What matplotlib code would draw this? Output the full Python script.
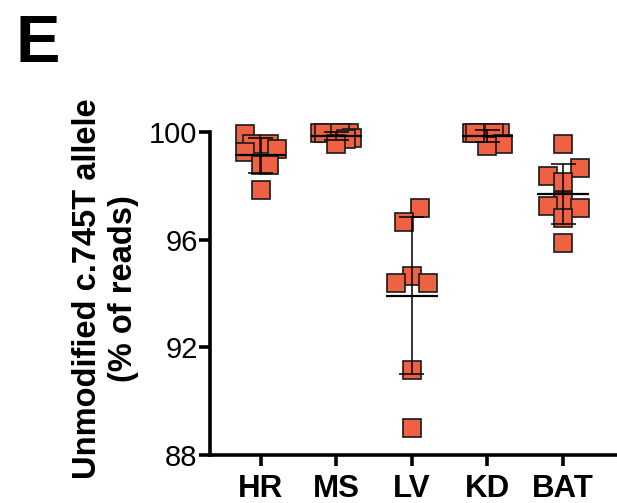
import numpy as np
import matplotlib
matplotlib.use("Agg")
import matplotlib.pyplot as plt

plt.rcParams['font.family'] = ['Liberation Sans', 'DejaVu Sans']

categories = ["HR", "MS", "LV", "KD", "BAT"]

hr_values = [99.94, 99.55, 99.55, 99.37, 99.25, 98.78, 98.78, 97.86]
ms_values = [99.98, 99.96, 99.97, 99.96, 99.95, 99.77, 99.74, 99.55]
lv_values = [97.17, 96.67, 94.66, 94.38, 94.38, 91.16, 88.99]
kd_values = [99.98, 99.96, 99.96, 99.97, 99.95, 99.55, 99.48, 99.98]
bat_values = [99.55, 98.65, 98.38, 98.15, 97.45, 97.26, 97.17, 96.79, 95.87]

# horizontal scatter offsets of the points (category units)
hr_offsets = [-0.21, -0.12, 0.11, 0.21, -0.21, 0.0, 0.11, 0.0]
ms_offsets = [-0.21, -0.16, 0.08, 0.17, 0.05, 0.21, 0.13, 0.0]
lv_offsets = [0.11, -0.11, 0.0, -0.21, 0.21, 0.0, 0.0]
kd_offsets = [-0.21, -0.12, -0.05, 0.17, 0.08, 0.21, 0.0, -0.17]
bat_offsets = [0.0, 0.22, -0.2, 0.0, 0.0, -0.2, 0.22, 0.0, 0.0]

yticks = [88, 92, 96, 100]

groups = [hr_values, ms_values, lv_values, kd_values, bat_values]
offsets = [hr_offsets, ms_offsets, lv_offsets, kd_offsets, bat_offsets]

fig = plt.figure(figsize=(6.17, 5.03), dpi=100)
ax = fig.add_axes([210/617, 48/503, 406/617, 323/503])

face = '#EE6142'
for i, (vals, offs) in enumerate(zip(groups, offsets)):
    xs = i + np.array(offs)
    ax.plot(xs, vals, 's', ms=13.6, mfc=face, mec='#1a1a1a', mew=1.2,
            clip_on=False, zorder=3, linestyle='none')
    m = np.mean(vals)
    sd = np.std(vals, ddof=1)
    ax.plot([i - 0.34, i + 0.34], [m, m], color='black', lw=1.6, zorder=4,
            solid_capstyle='butt', clip_on=False)
    ax.plot([i, i], [m - sd, m + sd], color='black', lw=1.1, zorder=4, clip_on=False)
    for y in (m - sd, m + sd):
        ax.plot([i - 0.165, i + 0.165], [y, y], color='black', lw=1.1, zorder=4,
                solid_capstyle='butt', clip_on=False)

ax.set_xlim(-0.67, 4.7)
ax.set_ylim(88, 100)
ax.set_yticks(yticks)
ax.set_yticklabels([str(t) for t in yticks], fontsize=21)
ax.set_xticks(range(len(categories)))
ax.set_xticklabels(categories, fontsize=22.5, fontweight='bold')

for s in ['top', 'right']:
    ax.spines[s].set_visible(False)
for s in ['left', 'bottom']:
    ax.spines[s].set_linewidth(2.6)
ax.tick_params(axis='y', length=8, width=2.6, pad=1)
ax.tick_params(axis='x', length=8, width=2.6, pad=6)

ax.set_ylabel("Unmodified c.745T allele\n(% of reads)", fontsize=23.5,
              fontweight='bold', linespacing=1.2)
ax.yaxis.set_label_coords(-0.175, 0.515)

fig.text(15/617, 1 - 62/503, 'E', fontsize=48, fontweight='bold', va='baseline', ha='left')

fig.savefig('out.png', dpi=100)
